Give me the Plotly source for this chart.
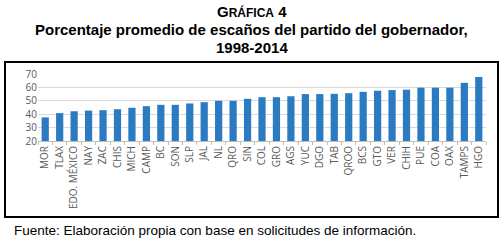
import plotly.graph_objects as go

estados = ["MOR", "TLAX", "EDO. MÉXICO", "NAY", "ZAC", "CHIS", "MICH", "CAMP", "BC", "SON",
           "SLP", "JAL", "NL", "QRO", "SIN", "COL", "GRO", "AGS", "YUC", "DGO",
           "TAB", "QROO", "BCS", "GTO", "VER", "CHIH", "PUE", "COA", "OAX", "TAMPS", "HGO"]
porcentaje = [37.6, 40.8, 42.2, 42.7, 43.0, 43.7, 44.8, 46.0, 47.0, 47.0,
              48.0, 49.0, 50.0, 50.0, 51.5, 52.7, 52.7, 53.4, 55.0, 55.0,
              55.2, 55.7, 56.7, 57.5, 58.0, 58.3, 59.8, 59.8, 59.8, 63.4, 67.8]
y_ticks = [20, 30, 40, 50, 60, 70]

W, H = 503, 244
L, R, T, B = 38, 17, 74, 103
pw, ph = W - L - R, H - T - B

def px(x):
    return (x - L) / pw

def py(y):
    return (H - B - y) / ph

fig = go.Figure(go.Bar(x=estados, y=porcentaje, marker=dict(color="#2b7bc2", line=dict(width=0)),
                       width=0.5))

fig.update_layout(
    width=W, height=H,
    margin=dict(l=L, r=R, t=T, b=B),
    paper_bgcolor="white", plot_bgcolor="white",
    showlegend=False,
    font=dict(family="Open Sans", color="#595959", size=9),
)
fig.update_xaxes(
    type="category", tickangle=-90, tickfont=dict(size=10, color="#595959", family="Open Sans"),
    showline=True, linecolor="#bfbfbf", linewidth=1,
    ticks="outside", ticklen=3, tickcolor="#bfbfbf", tickson="boundaries",
    showgrid=False, automargin=False,
)
fig.update_yaxes(
    range=[20, 70], tickvals=y_ticks, tickfont=dict(size=10, color="#595959", family="Open Sans"),
    showgrid=True, gridcolor="#d9d9d9", gridwidth=1, zeroline=False,
    showline=False, ticks="", ticklen=0, automargin=False,
)

# outer frame
fig.add_shape(type="rect", xref="paper", yref="paper",
              x0=px(5), x1=px(498), y0=py(217), y1=py(62),
              line=dict(color="black", width=2), fillcolor="rgba(0,0,0,0)", layer="above")

title_font = dict(family="Liberation Sans", size=15, color="black")
fig.add_annotation(xref="paper", yref="paper", x=px(251.5), y=py(11), xanchor="center", yanchor="middle",
                   text="<b>G<span style='font-size:12px'>RÁFICA</span> 4</b>", showarrow=False,
                   font=title_font)
fig.add_annotation(xref="paper", yref="paper", x=px(251.5), y=py(29), xanchor="center", yanchor="middle",
                   text="<b>Porcentaje promedio de escaños del partido del gobernador,</b>", showarrow=False,
                   font=title_font)
fig.add_annotation(xref="paper", yref="paper", x=px(251.5), y=py(47), xanchor="center", yanchor="middle",
                   text="<b>1998-2014</b>", showarrow=False, font=title_font)
fig.add_annotation(xref="paper", yref="paper", x=px(12), y=py(230), xanchor="left", yanchor="middle",
                   text="Fuente: Elaboración propia con base en solicitudes de información.", showarrow=False,
                   font=dict(family="Liberation Sans", size=13.5, color="black"))

fig.write_html("out.html", config={"displayModeBar": False},
               post_script="document.body.style.margin='0';")
